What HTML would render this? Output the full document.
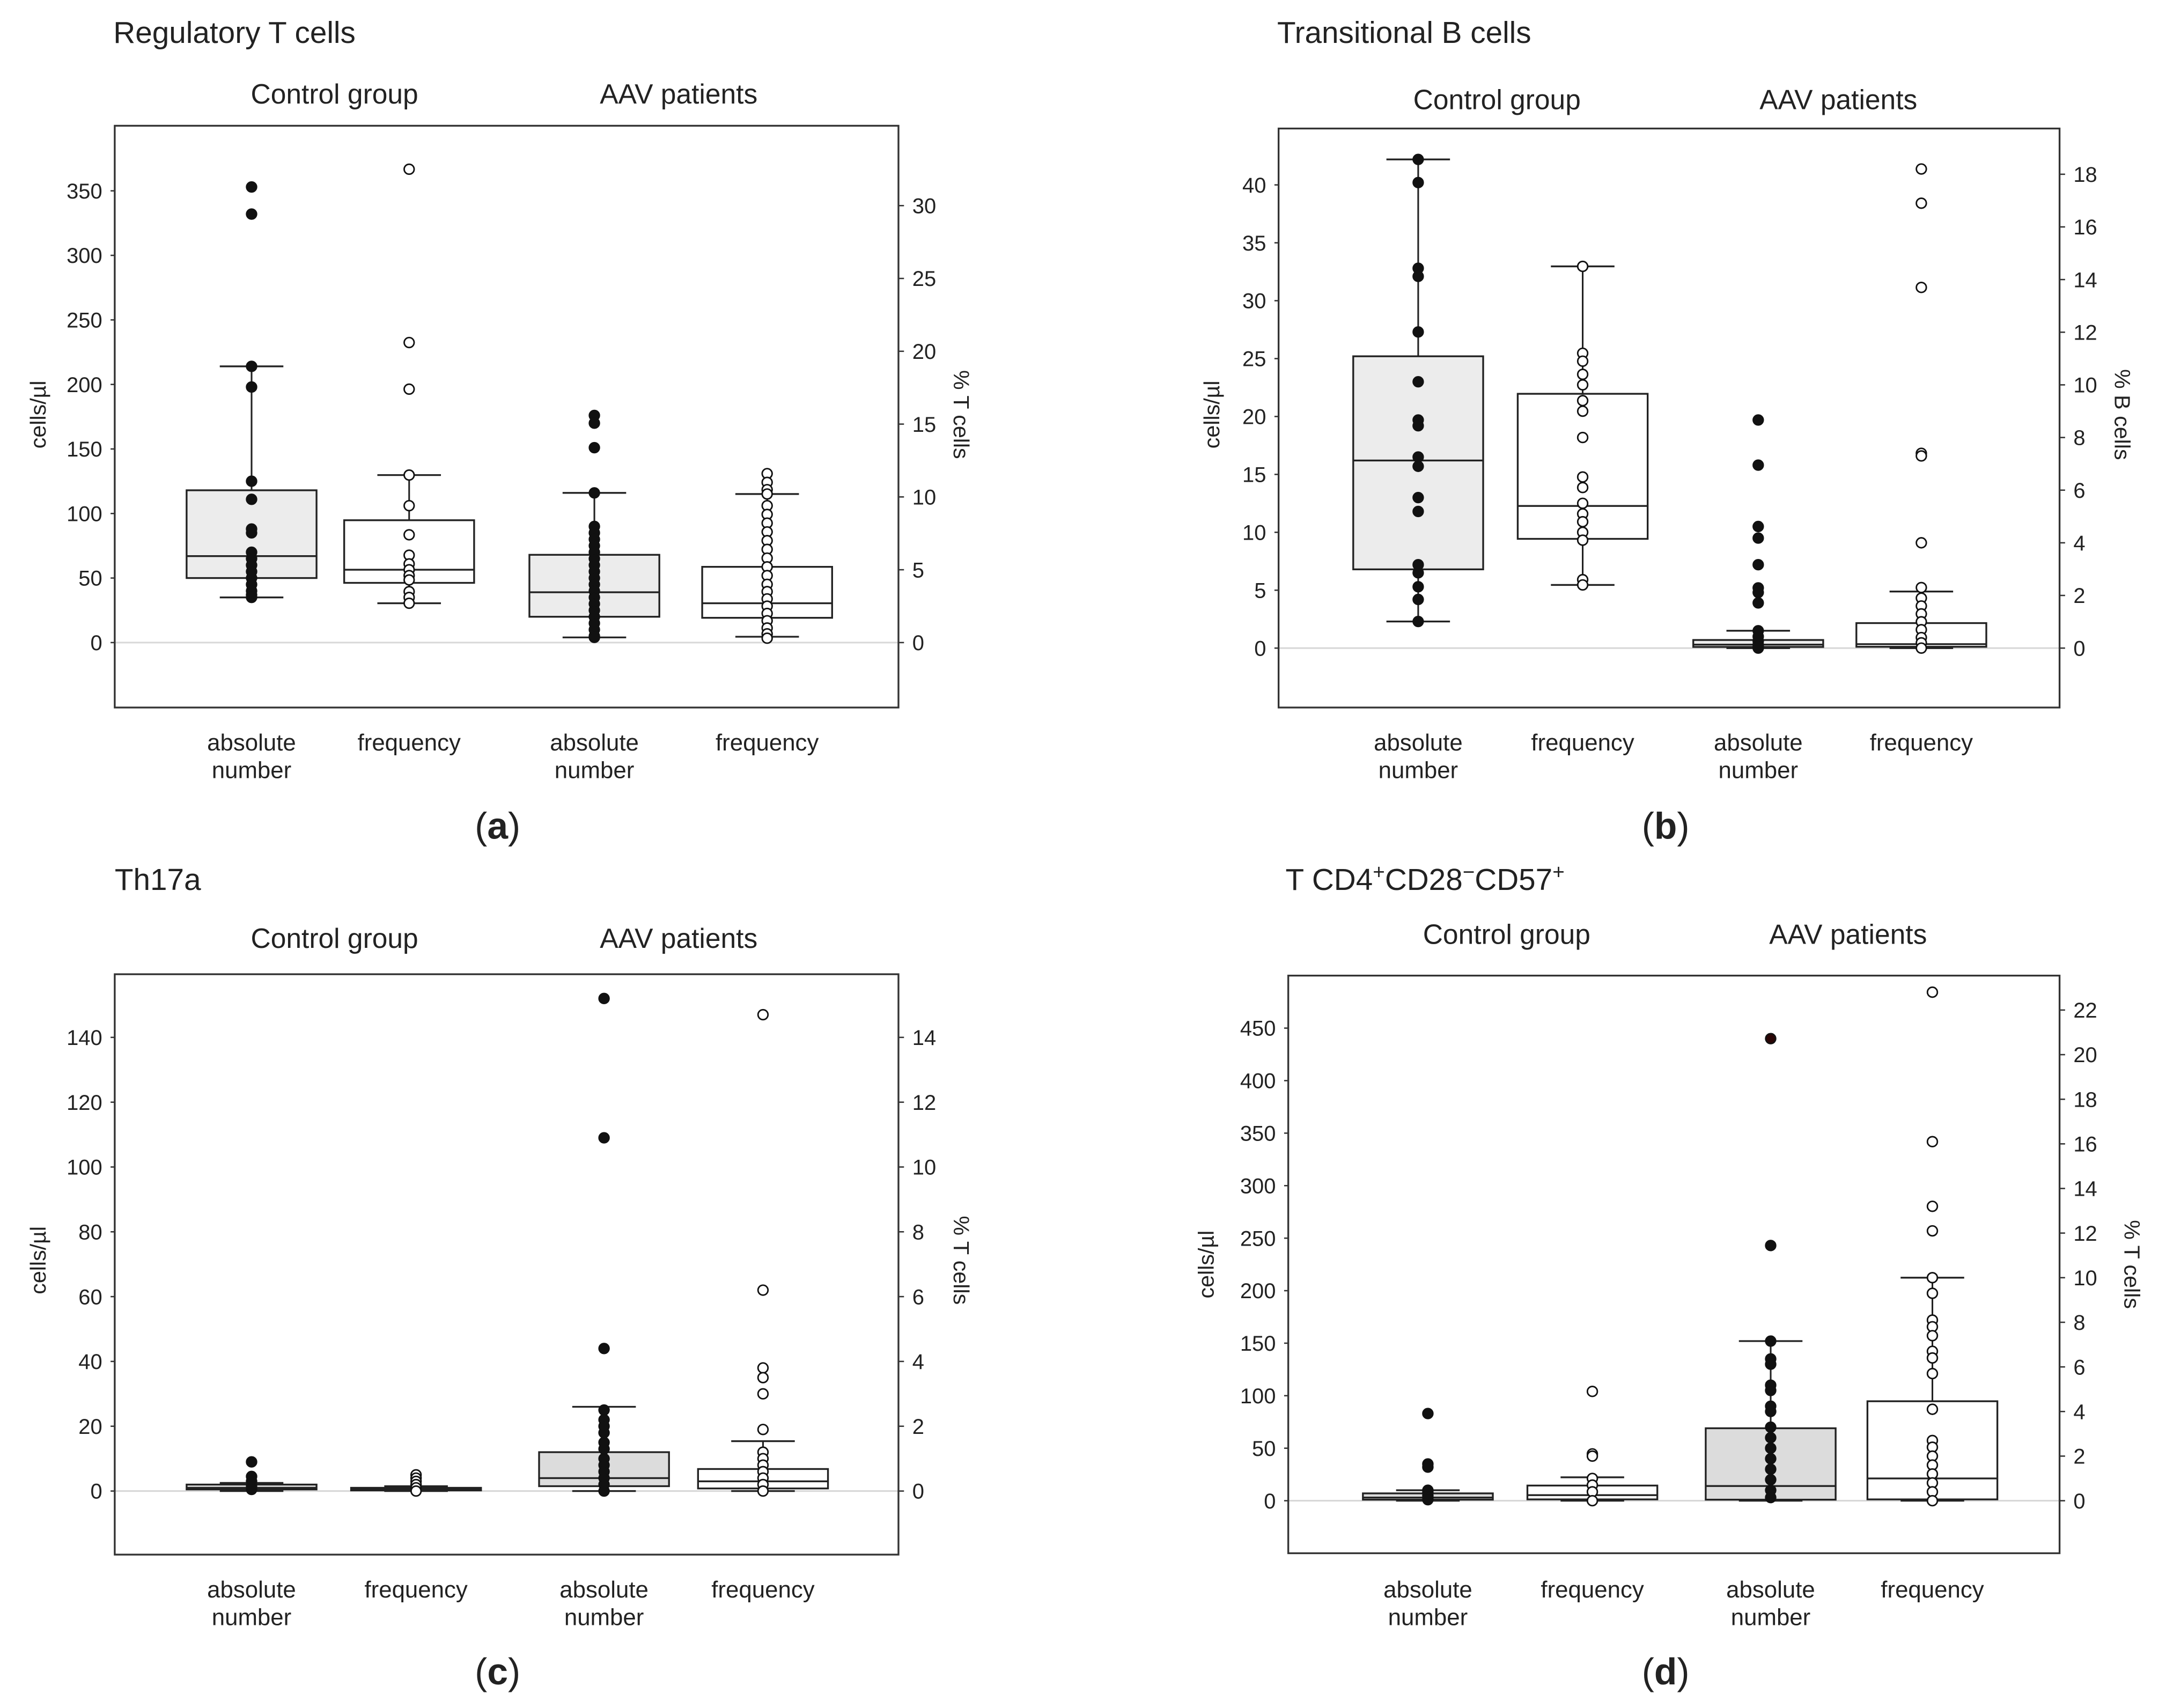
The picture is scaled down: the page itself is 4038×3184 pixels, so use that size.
<!DOCTYPE html>
<html><head><meta charset="utf-8"><title>Box plots</title>
<style>
html,body{margin:0;padding:0;background:#fff;}
svg{display:block;}
text{font-family:"Liberation Sans",sans-serif;fill:#222;}
</style></head>
<body>
<svg id="fig" width="4038" height="3184" viewBox="0 0 1567 1236" preserveAspectRatio="none" xmlns="http://www.w3.org/2000/svg"></svg>
<script>
// ---------- Panel A: Regulatory T cells ----------
const aLeftTicks = [0,50,100,150,200,250,300,350];
const aRightTicks = [0,5,10,15,20,25,30];
const aCtrlAbs = {q1:50, med:67, q3:118, lo:35, hi:214};
const aCtrlAbsPts = [353,332,214,198,125,111,88,85,70,65,60,55,50,45,40,37,35];
const aCtrlFreq = {q1:4.1, med:5.0, q3:8.4, lo:2.7, hi:11.5};
const aCtrlFreqPts = [32.5,20.6,17.4,11.5,9.4,7.4,6.0,5.4,5.0,4.6,4.3,3.5,3.1,2.7];
const aAavAbs = {q1:20, med:39, q3:68, lo:4, hi:116};
const aAavAbsPts = [176,170,151,116,90,85,80,75,70,65,60,55,50,45,40,35,30,25,20,15,10,5,4];
const aAavFreq = {q1:1.7, med:2.7, q3:5.2, lo:0.4, hi:10.2};
const aAavFreqPts = [11.6,11.0,10.5,10.2,9.4,8.8,8.2,7.6,7.0,6.4,5.8,5.2,4.6,4.0,3.5,3.0,2.5,2.0,1.5,1.0,0.6,0.3];

// ---------- Panel B: Transitional B cells ----------
const bLeftTicks = [0,5,10,15,20,25,30,35,40];
const bRightTicks = [0,2,4,6,8,10,12,14,16,18];
const bCtrlAbs = {q1:6.8, med:16.2, q3:25.2, lo:2.3, hi:42.2};
const bCtrlAbsPts = [42.2,40.2,32.8,32.1,27.3,23,19.7,19.2,16.5,15.7,13,11.8,7.2,6.5,5.3,4.2,2.3];
const bCtrlFreq = {q1:4.15, med:5.4, q3:9.66, lo:2.4, hi:14.5};
const bCtrlFreqPts = [14.5,11.2,10.9,10.4,10.0,9.4,9.0,8.0,6.5,6.1,5.5,5.1,4.8,4.4,4.1,2.6,2.4];
const bAavAbs = {q1:0.1, med:0.3, q3:0.7, lo:0, hi:1.5};
const bAavAbsPts = [19.7,15.8,10.5,9.5,7.2,5.2,4.8,3.9,1.5,1.0,0.6,0.3,0.1,0];
const bAavFreq = {q1:0.05, med:0.15, q3:0.95, lo:0, hi:2.15};
const bAavFreqPts = [18.2,16.9,13.7,7.4,7.3,4.0,2.3,1.9,1.6,1.3,1.0,0.7,0.4,0.2,0];

// ---------- Panel C: Th17a ----------
const cLeftTicks = [0,20,40,60,80,100,120,140];
const cRightTicks = [0,2,4,6,8,10,12,14];
const cCtrlAbs = {q1:0.5, med:1, q3:2, lo:0, hi:2.5};
const cCtrlAbsPts = [9,4.5,3,1.5,0.5];
const cCtrlFreq = {q1:0.02, med:0.06, q3:0.1, lo:0, hi:0.15};
const cCtrlFreqPts = [0.5,0.4,0.3,0.2,0.1,0];
const cAavAbs = {q1:1.5, med:4, q3:12, lo:0, hi:26};
const cAavAbsPts = [152,109,44,25,22,20,18,15,13,10,8,6,4,2,0];
const cAavFreq = {q1:0.08, med:0.3, q3:0.68, lo:0, hi:1.54};
const cAavFreqPts = [14.7,6.2,3.8,3.5,3.0,1.9,1.2,1.0,0.8,0.6,0.4,0.2,0];

// ---------- Panel D: T CD4+CD28-CD57+ ----------
const dLeftTicks = [0,50,100,150,200,250,300,350,400,450];
const dRightTicks = [0,2,4,6,8,10,12,14,16,18,20,22];
const dCtrlAbs = {q1:1, med:3, q3:7, lo:0, hi:10};
const dCtrlAbsPts = [83,35,32,10,8,5,3,1];
const dCtrlFreq = {q1:0.06, med:0.25, q3:0.68, lo:0, hi:1.05};
const dCtrlFreqPts = [4.9,2.1,2.0,1.0,0.7,0.4,0];
const dAavAbs = {q1:1, med:14, q3:69, lo:0, hi:152};
const dAavAbsPts = [440,243,152,135,130,110,105,90,85,70,60,50,40,30,20,10,3];
const dAavFreq = {q1:0.06, med:1.0, q3:4.46, lo:0, hi:10.0};
const dAavFreqPts = [22.8,16.1,13.2,12.1,10.0,9.3,8.1,7.8,7.4,6.7,6.4,5.7,4.1,2.7,2.4,2.0,1.6,1.2,0.8,0.4,0];

const NS = "http://www.w3.org/2000/svg";
const fig = document.getElementById('fig');
function mk(tag, attrs, parent){ const e=document.createElementNS(NS,tag); for(const k in attrs) e.setAttribute(k,attrs[k]); (parent||fig).appendChild(e); return e; }
function txt(parent, x, y, s, size, anchor, extra){ const t=mk('text',Object.assign({x:x,y:y,'font-size':size,'text-anchor':anchor||'start'},extra||{}),parent); t.textContent=s; return t; }

function panel(cfg){
  const g = mk('g',{});
  
  
  const L=cfg.x0, R=cfg.x1, T=cfg.y0, B=cfg.y1, Z=cfg.zeroY;
  const yL = v => Z - v*cfg.lScale;
  const yR = v => Z - v*cfg.rScale;
  const title = txt(g, cfg.titleX, cfg.titleY, '', 22);
  title.innerHTML = cfg.titleHTML;
  
  
  const h1 = txt(g, cfg.hdrCtrl, cfg.hdrY, 'Control group', 20, 'middle');
  
  
  const h2 = txt(g, cfg.hdrAav, cfg.hdrY, 'AAV patients', 20, 'middle');
  
  
  const zl = mk('line',{x1:L,x2:R,y1:Z,y2:Z,stroke:'#d8d8d8','stroke-width':1.2},g);
  
  
  const fr = mk('rect',{x:L,y:T,width:R-L,height:B-T,fill:'none',stroke:'#333','stroke-width':1.3},g);
  
  
  cfg.lTicks.forEach(v=>{
    const y=yL(v);
    mk('line',{x1:L-3,x2:L,y1:y,y2:y,stroke:'#333','stroke-width':1},g);
    const t = txt(g, L-9, y+5.5, String(v), 15.5, 'end');
    
    
  });
  cfg.rTicks.forEach(v=>{
    const y=yR(v);
    mk('line',{x1:R,x2:R+4,y1:y,y2:y,stroke:'#333','stroke-width':1},g);
    const t = txt(g, R+10, y+5.5, String(v), 15.5, 'start');
    
    
  });
  const lt = txt(g, 0, 0, 'cells/µl', 16, 'middle', {transform:`translate(${cfg.lTitleX},${cfg.axTitleY}) rotate(-90)`});
  
  
  const rt = txt(g, 0, 0, cfg.rTitle, 16, 'middle', {transform:`translate(${cfg.rTitleX},${cfg.axTitleY}) rotate(90)`});
  
  
  cfg.boxes.forEach(b=>{
    const ys = b.axis==='L'? yL : yR;
    const bg = mk('g',{},g);
    
    
    const cx=b.cx, hw=47, cw=23;
    mk('line',{x1:cx,x2:cx,y1:ys(b.s.hi),y2:ys(b.s.lo),stroke:'#222','stroke-width':1.2},bg);
    mk('line',{x1:cx-cw,x2:cx+cw,y1:ys(b.s.hi),y2:ys(b.s.hi),stroke:'#222','stroke-width':1.3},bg);
    mk('line',{x1:cx-cw,x2:cx+cw,y1:ys(b.s.lo),y2:ys(b.s.lo),stroke:'#222','stroke-width':1.3},bg);
    const rect = mk('rect',{x:cx-hw,y:ys(b.s.q3),width:2*hw,height:Math.max(1,ys(b.s.q1)-ys(b.s.q3)),fill:b.fill,stroke:'#222','stroke-width':1.3},bg);
    
    
    mk('line',{x1:cx-hw,x2:cx+hw,y1:ys(b.s.med),y2:ys(b.s.med),stroke:'#222','stroke-width':1.3},bg);
    b.pts.forEach((v,i)=>{
      const c = mk('circle',{cx:cx,cy:ys(v),r:3.6,fill:b.filled?(b.redFirst&&i===0?'#2a0505':'#111'):'#fff',stroke:'#111','stroke-width':1.1},bg);
      
      
    });
  });
  cfg.boxes.forEach(b=>{
    if(b.axis==='L'){
      const t1=txt(g,b.cx,cfg.xlY,'absolute',17,'middle');
      
      
      const t2=txt(g,b.cx,cfg.xlY+20,'number',17,'middle');
      
      
    } else {
      const t1=txt(g,b.cx,cfg.xlY,'frequency',17,'middle');
      
      
    }
  });
  const cap = txt(g, cfg.capX, cfg.capY, '', 27, 'middle', {'font-family':'"Liberation Serif",serif'});
  cap.innerHTML = '(<tspan font-weight="bold">'+cfg.cap+'</tspan>)';
  
  
}

panel({id:'a', x0:83,x1:650,y0:91,y1:512, zeroY:465, lScale:46.7/50, rScale:52.7/5,
  lTicks:aLeftTicks, rTicks:aRightTicks, titleHTML:'Regulatory T cells', titleX:82,titleY:31,
  hdrCtrl:242,hdrAav:491,hdrY:75, lTitleX:33, rTitleX:690, axTitleY:300, rTitle:'% T cells',
  xlY:543, capX:360, capY:607, cap:'a',
  boxes:[
   {name:'control-absolute-box',cx:182,axis:'L',s:aCtrlAbs,pts:aCtrlAbsPts,fill:'#ececec',filled:true},
   {name:'control-frequency-box',cx:296,axis:'R',s:aCtrlFreq,pts:aCtrlFreqPts,fill:'#fff',filled:false},
   {name:'aav-absolute-box',cx:430,axis:'L',s:aAavAbs,pts:aAavAbsPts,fill:'#ececec',filled:true},
   {name:'aav-frequency-box',cx:555,axis:'R',s:aAavFreq,pts:aAavFreqPts,fill:'#fff',filled:false}]});

panel({id:'b', x0:925,x1:1490,y0:93,y1:512, zeroY:469, lScale:8.38, rScale:19.05,
  lTicks:bLeftTicks, rTicks:bRightTicks, titleHTML:'Transitional B cells', titleX:924,titleY:31,
  hdrCtrl:1083,hdrAav:1330,hdrY:79, lTitleX:882, rTitleX:1530, axTitleY:300, rTitle:'% B cells',
  xlY:543, capX:1205, capY:607, cap:'b',
  boxes:[
   {name:'control-absolute-box',cx:1026,axis:'L',s:bCtrlAbs,pts:bCtrlAbsPts,fill:'#ececec',filled:true},
   {name:'control-frequency-box',cx:1145,axis:'R',s:bCtrlFreq,pts:bCtrlFreqPts,fill:'#fff',filled:false},
   {name:'aav-absolute-box',cx:1272,axis:'L',s:bAavAbs,pts:bAavAbsPts,fill:'#ececec',filled:true},
   {name:'aav-frequency-box',cx:1390,axis:'R',s:bAavFreq,pts:bAavFreqPts,fill:'#fff',filled:false}]});

panel({id:'c', x0:83,x1:650,y0:705,y1:1125, zeroY:1079, lScale:46.9/20, rScale:23.45,
  lTicks:cLeftTicks, rTicks:cRightTicks, titleHTML:'Th17a', titleX:83,titleY:644,
  hdrCtrl:242,hdrAav:491,hdrY:686, lTitleX:33, rTitleX:690, axTitleY:912, rTitle:'% T cells',
  xlY:1156, capX:360, capY:1219, cap:'c',
  boxes:[
   {name:'control-absolute-box',cx:182,axis:'L',s:cCtrlAbs,pts:cCtrlAbsPts,fill:'#dcdcdc',filled:true},
   {name:'control-frequency-box',cx:301,axis:'R',s:cCtrlFreq,pts:cCtrlFreqPts,fill:'#fff',filled:false},
   {name:'aav-absolute-box',cx:437,axis:'L',s:cAavAbs,pts:cAavAbsPts,fill:'#dcdcdc',filled:true},
   {name:'aav-frequency-box',cx:552,axis:'R',s:cAavFreq,pts:cAavFreqPts,fill:'#fff',filled:false}]});

panel({id:'d', x0:932,x1:1490,y0:706,y1:1124, zeroY:1086, lScale:0.76, rScale:16.14,
  lTicks:dLeftTicks, rTicks:dRightTicks, titleHTML:'T CD4<tspan dy="-8" font-size="15">+</tspan><tspan dy="8">CD28</tspan><tspan dy="-8" font-size="15">−</tspan><tspan dy="8">CD57</tspan><tspan dy="-8" font-size="15">+</tspan>', titleX:930,titleY:644,
  hdrCtrl:1090,hdrAav:1337,hdrY:683, lTitleX:878, rTitleX:1537, axTitleY:915, rTitle:'% T cells',
  xlY:1156, capX:1205, capY:1219, cap:'d',
  boxes:[
   {name:'control-absolute-box',cx:1033,axis:'L',s:dCtrlAbs,pts:dCtrlAbsPts,fill:'#dcdcdc',filled:true},
   {name:'control-frequency-box',cx:1152,axis:'R',s:dCtrlFreq,pts:dCtrlFreqPts,fill:'#fff',filled:false},
   {name:'aav-absolute-box',cx:1281,axis:'L',s:dAavAbs,pts:dAavAbsPts,fill:'#dcdcdc',filled:true,redFirst:true},
   {name:'aav-frequency-box',cx:1398,axis:'R',s:dAavFreq,pts:dAavFreqPts,fill:'#fff',filled:false}]});
</script>
</body></html>
